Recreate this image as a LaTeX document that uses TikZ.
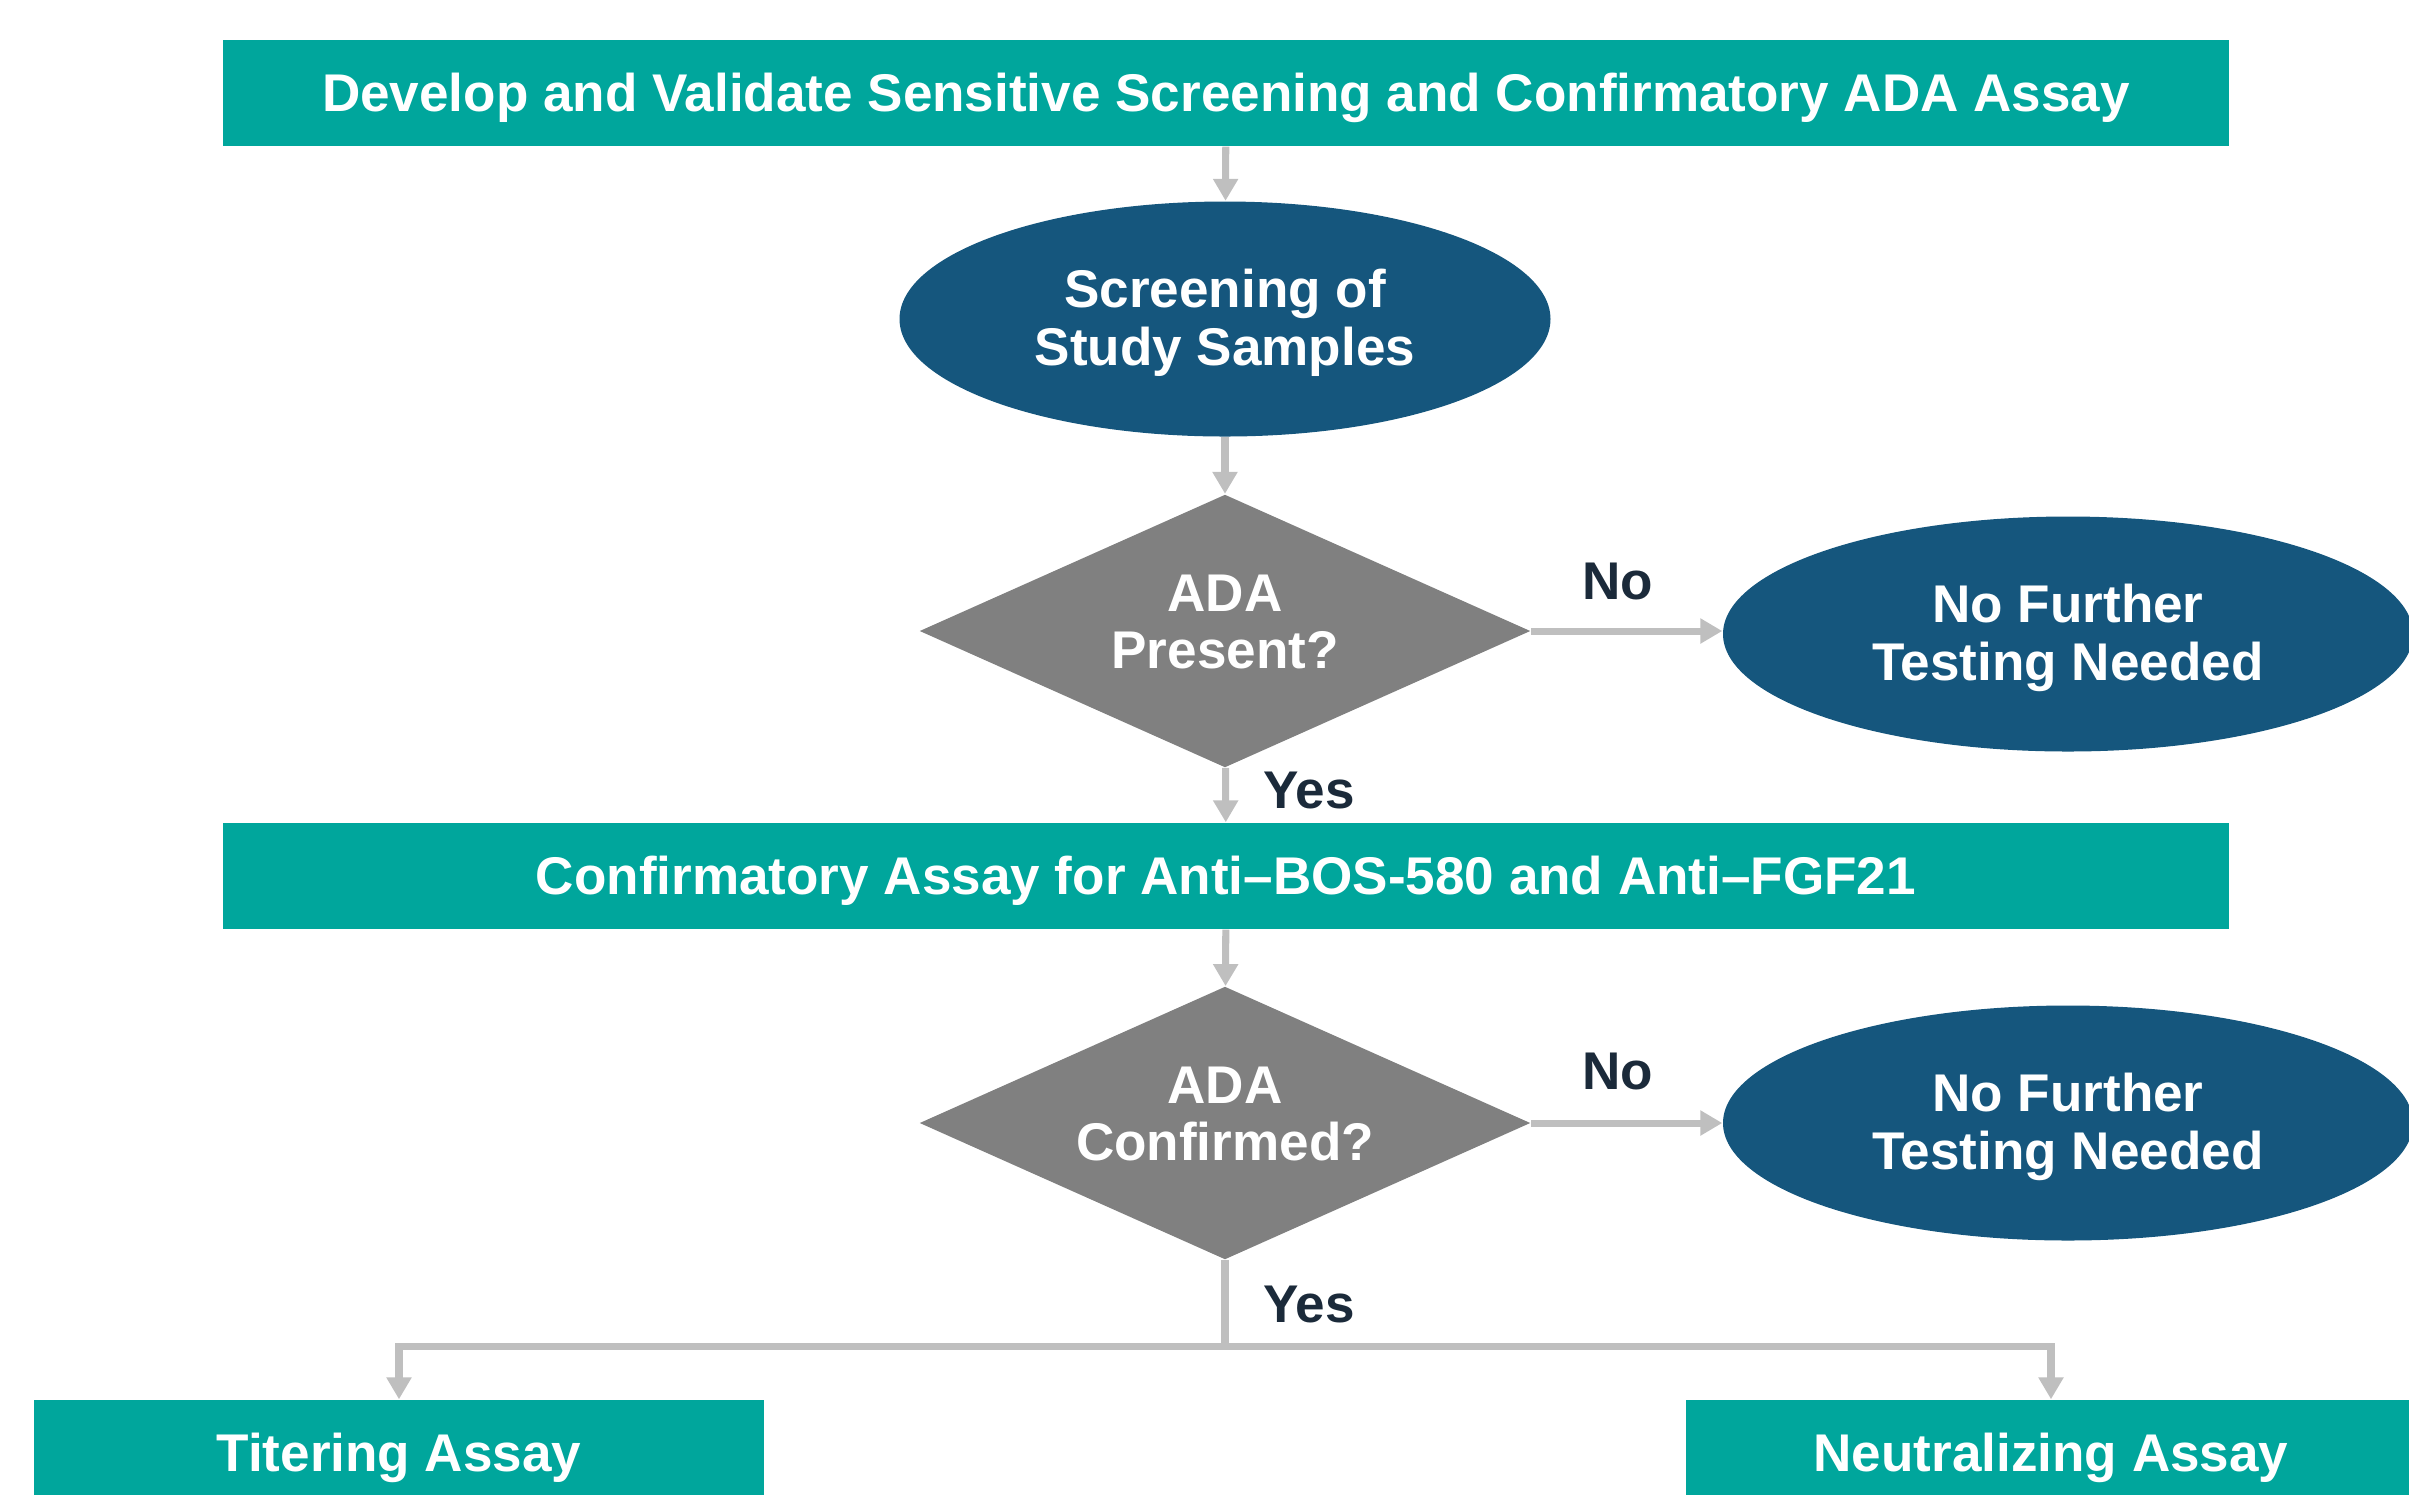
\documentclass[tikz,border=0pt]{standalone}
\usepackage{fontspec}
\setmainfont{Liberation Sans}
\usetikzlibrary{arrows.meta,shapes.geometric}
\definecolor{tealbox}{RGB}{0,166,156}
\definecolor{navyoval}{RGB}{21,86,125}
\definecolor{greydiam}{RGB}{128,128,128}
\definecolor{greyarrow}{RGB}{191,191,191}
\definecolor{darklabel}{RGB}{27,42,58}

\begin{document}
\begin{tikzpicture}[
	font=\bfseries\fontsize{15.1}{16.4}\selectfont,
	stepbox/.style={rectangle, fill=tealbox, text=white, inner sep=0pt, minimum height=1.06cm, text height=13.6pt, text depth=3.2pt},
	oval/.style={ellipse, fill=navyoval, inner sep=0pt, minimum height=2.35cm,
		label={[text=white, align=center, yshift=-0.04cm]center:#1}},
	decide/.style={diamond, fill=greydiam, inner sep=0pt, aspect=2.24, minimum width=6.11cm, minimum height=2.73cm,
		label={[text=white, align=center, yshift=0.09cm]center:#1}},
	arr/.style={draw=greyarrow, line width=2pt, -{Triangle[width=0.24cm,length=0.22cm]}},
	lbl/.style={text=darklabel}
	]
			%%%%% START %%%%%
			\clip (0, 0) rectangle (24.09, -14.94);
			
			\node[stepbox, minimum width=20.06cm] (develop) at (12.26, -0.93) {Develop and Validate Sensitive Screening and Confirmatory ADA Assay};
			\node[oval={Screening of\\Study Samples}, minimum width=6.51cm] (screen) at (12.25, -3.19) {};
			\node[decide={ADA\\Present?}] (present) at (12.25, -6.31) {};
			\node[oval={No Further\\Testing Needed}, minimum width=6.9cm] (nofurtherA) at (20.68, -6.34) {};
			
			\node[stepbox, minimum width=20.06cm] (confirm) at (12.26, -8.76) {Confirmatory Assay for Anti--BOS-580 and Anti--FGF21};
			\node[decide={ADA\\Confirmed?}] (confirmed) at (12.25, -11.23) {};
			\node[oval={No Further\\Testing Needed}, minimum width=6.9cm] (nofurtherB) at (20.68, -11.23) {};
			
			\node[stepbox, minimum width=7.30cm] (titer) at (3.99, -14.53) {Titering Assay};
			\node[stepbox, minimum width=7.30cm] (neutral) at (20.51, -14.53) {Neutralizing Assay};
			
			\draw[arr] (develop) -- (screen);
			\draw[arr] (screen) -- (present);
			\draw[arr] (present.east) -- (present.east -| nofurtherA.west);
			\draw[arr] (present) -- (confirm);
			\draw[arr] (confirm) -- (confirmed);
			\draw[arr] (confirmed) -- (nofurtherB);
			
			\coordinate (split) at (12.25, -13.46);
			\draw[arr] (confirmed.south) -- (split) -| (titer.north);
			\draw[arr] (split) -| (neutral.north);
			
			\node[lbl] (noA) at (16.18, -5.81) {No};
			\node[lbl] (yesA) at (13.09, -7.90) {Yes};
			\node[lbl] (noB) at (16.18, -10.71) {No};
			\node[lbl] (yesB) at (13.09, -13.04) {Yes};
			%%%%% END %%%%%
\end{tikzpicture}
\end{document}
